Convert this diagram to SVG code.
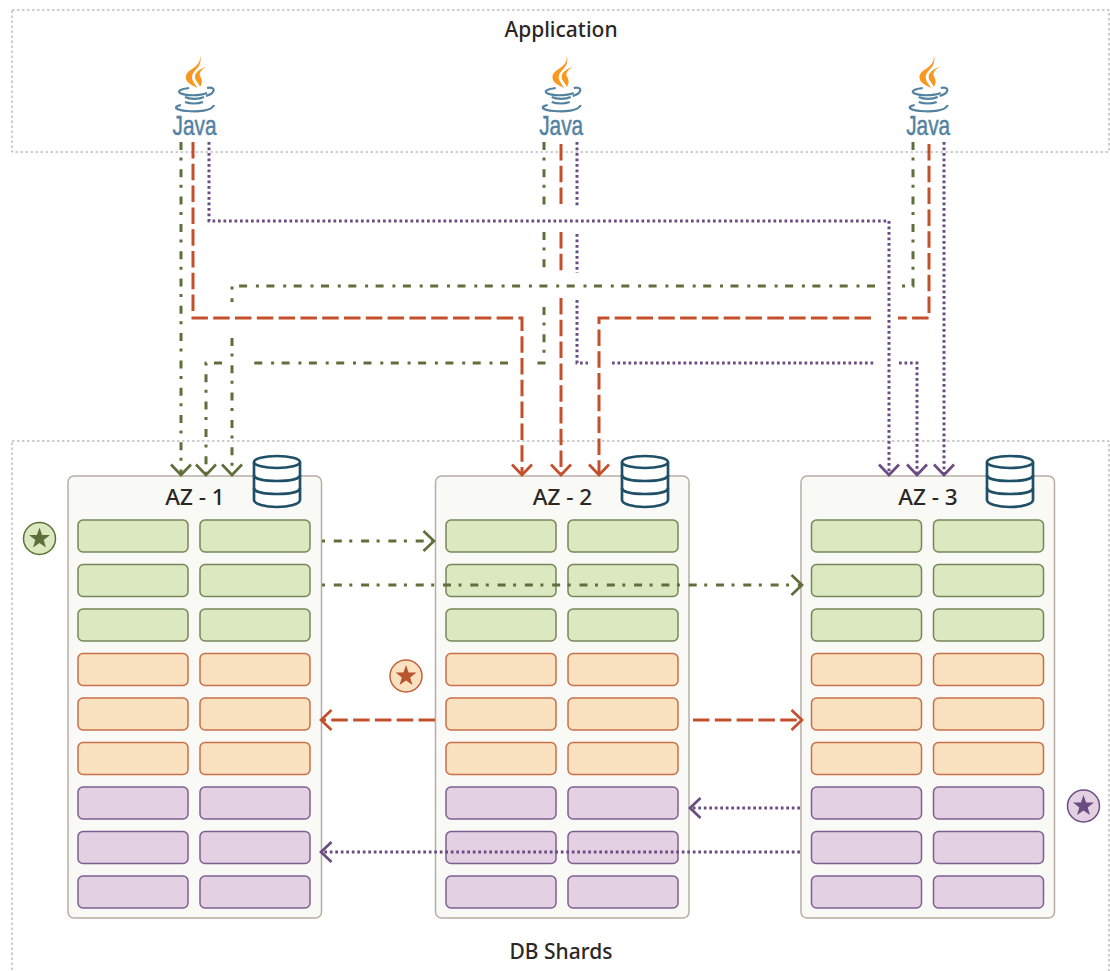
<svg xmlns="http://www.w3.org/2000/svg" width="1110" height="971" viewBox="0 0 1110 971">
<style>
text{font-family:"Noto Sans","Open Sans","Liberation Sans",sans-serif;fill:#2b2725;font-weight:500;text-anchor:middle}
.zone{fill:none;stroke:#9c9c9c;stroke-width:1;stroke-dasharray:2.500 2.500}
.az{fill:#f9f9f6;stroke:#b8aea6;stroke-width:1.500}
.g{fill:#dce9c0;stroke:#75875a;stroke-width:1.500}
.o{fill:#fae1c0;stroke:#c8704a;stroke-width:1.500}
.p{fill:#e3d0e3;stroke:#7d5f92;stroke-width:1.500}
.c{fill:none;stroke-width:3}
.cg{stroke:#5f6f3b;stroke-dasharray:8 7.500 3 8.800;marker-end:url(#ag)}
.cr{stroke:#c34f2b;stroke-dasharray:16.500 5.300;marker-end:url(#ar)}
.cp{stroke:#6b4c82;stroke-dasharray:2.700 2.800;marker-end:url(#ap)}
.db{fill:#fff;stroke:#1f5068;stroke-width:2.700}
.cup{fill:none;stroke:#5382a1;stroke-width:2.200}
</style>
<defs>
<marker id="ag" markerUnits="userSpaceOnUse" markerWidth="26" markerHeight="26" viewBox="-13 -13 26 26" refX="0" refY="0" orient="auto"><path d="M-10.500-10L0 0L-10.500 10" fill="none" stroke="#5f6f3b" stroke-width="2.700"/></marker>
<marker id="ar" markerUnits="userSpaceOnUse" markerWidth="26" markerHeight="26" viewBox="-13 -13 26 26" refX="0" refY="0" orient="auto"><path d="M-10.500-10L0 0L-10.500 10" fill="none" stroke="#c34f2b" stroke-width="2.700"/></marker>
<marker id="ap" markerUnits="userSpaceOnUse" markerWidth="26" markerHeight="26" viewBox="-13 -13 26 26" refX="0" refY="0" orient="auto"><path d="M-10.500-10L0 0L-10.500 10" fill="none" stroke="#6b4c82" stroke-width="2.700"/></marker>
<polygon id="star" points="0,-11 2.600,-3.600 10.500,-3.400 4.200,1.400 6.500,8.900 0,4.400 -6.500,8.900 -4.200,1.400 -10.500,-3.400 -2.600,-3.600"/>
<g id="shards">
<rect class="g" x="0" y="0" width="110" height="32" rx="5"/><rect class="g" x="122" y="0" width="110" height="32" rx="5"/>
<rect class="g" x="0" y="44.500" width="110" height="32" rx="5"/><rect class="g" x="122" y="44.500" width="110" height="32" rx="5"/>
<rect class="g" x="0" y="89" width="110" height="32" rx="5"/><rect class="g" x="122" y="89" width="110" height="32" rx="5"/>
<rect class="o" x="0" y="133.500" width="110" height="32" rx="5"/><rect class="o" x="122" y="133.500" width="110" height="32" rx="5"/>
<rect class="o" x="0" y="178" width="110" height="32" rx="5"/><rect class="o" x="122" y="178" width="110" height="32" rx="5"/>
<rect class="o" x="0" y="222.500" width="110" height="32" rx="5"/><rect class="o" x="122" y="222.500" width="110" height="32" rx="5"/>
<rect class="p" x="0" y="267" width="110" height="32" rx="5"/><rect class="p" x="122" y="267" width="110" height="32" rx="5"/>
<rect class="p" x="0" y="311.500" width="110" height="32" rx="5"/><rect class="p" x="122" y="311.500" width="110" height="32" rx="5"/>
<rect class="p" x="0" y="356" width="110" height="32" rx="5"/><rect class="p" x="122" y="356" width="110" height="32" rx="5"/>
</g>
<g id="dbicon">
<path class="db" d="M-23-39V-1C-23 3-12 6 0 6S23 3 23-1V-39"/>
<ellipse class="db" cx="0" cy="-39" rx="23" ry="6"/>
<path class="db" style="fill:none" d="M-23-26C-23-22-12-20 0-20S23-22 23-26M-23-13C-23-9-12-7 0-7S23-9 23-13"/>
</g>
<g id="java">
<path d="M200 55C201 62 197 66 192 69C187 72 185 75 186 79C187 83 192 85 197.500 88C195 84 192 81 192 77C192 73 196 70 199 66C201 62 201 58 200 55Z" fill="#f89820"/>
<path d="M205.500 67C200 69 195 72 195 77C195 81 199 83 200 87C203 83 202 79 200 76C199 73 201 70 205.500 67Z" fill="#f89820"/>
<path class="cup" d="M189 88C181 89 177 91 180 93C185 96 200 96 207 93M207 88C216 86 216 93 206 96"/>
<path class="cup" d="M185 97C190 99.500 199 99.500 204 97M185 102C190 104 198 104 203 102"/>
<path class="cup" d="M181 105C172 107 176 110 187 111C198 112 212 111 214 105"/>
<text x="194.500" y="135" font-size="28" textLength="44" lengthAdjust="spacingAndGlyphs" style="fill:#5382a1;stroke:#5382a1;stroke-width:.5;font-weight:400;font-family:'Liberation Sans',Arial,sans-serif">Java</text>
</g>
</defs>
<rect width="1110" height="971" fill="#fff"/>
<g id="application"><rect class="zone" x="12" y="10" width="1097" height="142"/><text x="561" y="37" font-size="21">Application</text></g>
<g id="db-shards"><rect class="zone" x="12" y="441" width="1097" height="560"/><text x="561" y="959" font-size="21">DB Shards</text></g>
<g id="az-1"><rect class="az" x="68" y="476" width="253.500" height="442" rx="6"/><text x="195" y="505" font-size="22.500">AZ - 1</text><use href="#shards" x="78" y="520"/></g>
<g id="az-2"><rect class="az" x="435.500" y="476" width="253.500" height="442" rx="6"/><text x="562.500" y="505" font-size="22.500">AZ - 2</text><use href="#shards" x="446" y="520"/></g>
<g id="az-3"><rect class="az" x="801" y="476" width="253.500" height="442" rx="6"/><text x="928" y="505" font-size="22.500">AZ - 3</text><use href="#shards" x="811.500" y="520"/></g>
<g id="connectors">
<path class="c cg" d="M181 142V475"/>
<path class="c cg" d="M544 142V208M544 232V268M544 307V363H533M508 363H247M222 363H206V475"/>
<path class="c cg" d="M913 142V286H898M875 286H232V302M232 338V475"/>
<path class="c cr" d="M193 142V318H522V475"/>
<path class="c cr" d="M561 144V208M561 232V275M561 298V475"/>
<path class="c cr" d="M929 144V318H898M871 318H599V475"/>
<path class="c cp" d="M209 142V221H889V475"/>
<path class="c cp" d="M577 142V208M577 234V273M577 300V363H588M612 363H875M899 363H917V475"/>
<path class="c cp" d="M944 142V475"/>
<path class="c cg" stroke-dashoffset="15.500" d="M322 541H434"/>
<path class="c cg" stroke-dashoffset="15.500" d="M322 585H802"/>
<path class="c cr" d="M435 720H321"/>
<path class="c cr" d="M693 720H802"/>
<path class="c cp" d="M800 808H690"/>
<path class="c cp" d="M800 852H321"/>
</g>
<g id="db-icon-1"><use href="#dbicon" x="277" y="501"/></g>
<g id="db-icon-2"><use href="#dbicon" x="645" y="501"/></g>
<g id="db-icon-3"><use href="#dbicon" x="1010" y="501"/></g>
<g id="java-1"><use href="#java"/></g>
<g id="java-2"><use href="#java" x="366.700"/></g>
<g id="java-3"><use href="#java" x="733.700"/></g>
<g id="star-green"><circle cx="39.500" cy="538.500" r="16" fill="#dce9c0" stroke="#5f6f3b" stroke-width="1.500"/><use href="#star" x="39.500" y="538.500" fill="#5f6f3b"/></g>
<g id="star-red"><circle cx="406" cy="676" r="16" fill="#fae1c0" stroke="#c0623a" stroke-width="1.500"/><use href="#star" x="406" y="676" fill="#b9552f"/></g>
<g id="star-purple"><circle cx="1083.500" cy="806" r="16" fill="#e3d0e3" stroke="#6b4c82" stroke-width="1.500"/><use href="#star" x="1083.500" y="806" fill="#6b4c82"/></g>
</svg>
